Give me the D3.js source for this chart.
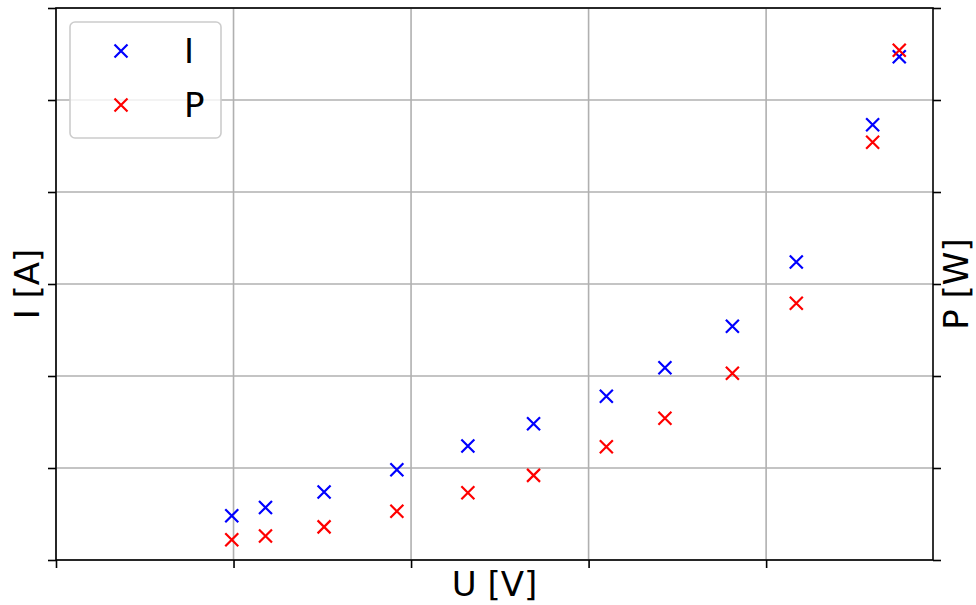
<!DOCTYPE html>
<html><head><meta charset="utf-8">
<script src="https://cdn.jsdelivr.net/npm/d3@7/dist/d3.min.js"></script>
<style>html,body{margin:0;padding:0;background:#fff;}svg{display:block;}</style>
</head><body>
<script>
// Data (axes have no tick labels)
const U = [0.99, 1.18, 1.51, 1.92, 2.32, 2.69, 3.10, 3.43, 3.81, 4.17, 4.60, 4.75];
const I = [0.48, 0.57, 0.74, 0.98, 1.24, 1.48, 1.78, 2.09, 2.54, 3.24, 4.73, 5.47];
const P = [0.22, 0.26, 0.36, 0.53, 0.73, 0.92, 1.23, 1.54, 2.03, 2.79, 4.54, 5.54];
const xTicks = [0, 1, 2, 3, 4];
const yTicks = [0, 1, 2, 3, 4, 5, 6];
const seriesNames = ["I", "P"];
const seriesColors = ["#0000ff", "#ff0000"];

const W = 976, H = 605;
const m = {left: 56, right: 43, top: 8, bottom: 45};
const pw = W - m.left - m.right, ph = H - m.top - m.bottom;
const font = "DejaVu Sans, sans-serif";
const fs = 34;

const svg = d3.select("body").append("svg").attr("width", W).attr("height", H);
const g = svg.append("g").attr("transform", `translate(${m.left},${m.top})`);

const x = d3.scaleLinear().domain([0, 4.94]).range([0, pw]);
const yL = d3.scaleLinear().domain([0, 6]).range([ph, 0]);
const yR = d3.scaleLinear().domain([0, 6]).range([ph, 0]);

// grid
g.append("g").selectAll("line").data(xTicks).join("line")
  .attr("x1", d => x(d)).attr("x2", d => x(d)).attr("y1", 0).attr("y2", ph)
  .attr("stroke", "#b0b0b0").attr("stroke-width", 1.6);
g.append("g").selectAll("line").data(yTicks).join("line")
  .attr("y1", d => yL(d)).attr("y2", d => yL(d)).attr("x1", 0).attr("x2", pw)
  .attr("stroke", "#b0b0b0").attr("stroke-width", 1.6);

// axes (ticks only, no labels)
function styleAxis(sel) {
  sel.select(".domain").remove();
  sel.selectAll(".tick line").attr("stroke", "#000").attr("stroke-width", 1.6);
  sel.selectAll(".tick text").remove();
}
g.append("g").attr("transform", `translate(0,${ph})`)
  .call(d3.axisBottom(x).tickValues(xTicks).tickSize(8)).call(styleAxis);
g.append("g").call(d3.axisLeft(yL).tickValues(yTicks).tickSize(8)).call(styleAxis);
g.append("g").attr("transform", `translate(${pw},0)`)
  .call(d3.axisRight(yR).tickValues(yTicks).tickSize(8)).call(styleAxis);

// spines
g.append("rect").attr("x", 0).attr("y", 0).attr("width", pw).attr("height", ph)
  .attr("fill", "none").attr("stroke", "#000").attr("stroke-width", 1.6);

// markers
const ms = 6.5;
function xMark(sel, color) {
  sel.append("path")
    .attr("d", `M${-ms},${-ms}L${ms},${ms}M${-ms},${ms}L${ms},${-ms}`)
    .attr("stroke", color).attr("stroke-width", 2.2).attr("fill", "none");
}
const dataI = U.map((u, i) => ({u, v: I[i]}));
const dataP = U.map((u, i) => ({u, v: P[i]}));
g.append("g").selectAll("g").data(dataI).join("g")
  .attr("transform", d => `translate(${x(d.u)},${yL(d.v)})`)
  .each(function() { xMark(d3.select(this), seriesColors[0]); });
g.append("g").selectAll("g").data(dataP).join("g")
  .attr("transform", d => `translate(${x(d.u)},${yR(d.v)})`)
  .each(function() { xMark(d3.select(this), seriesColors[1]); });

// legend
const lg = svg.append("g").attr("transform", "translate(70,22)");
lg.append("rect").attr("width", 151).attr("height", 116).attr("rx", 5)
  .attr("fill", "#fff").attr("fill-opacity", 0.8)
  .attr("stroke", "#cccccc").attr("stroke-width", 1.6);
seriesNames.forEach((n, i) => {
  const row = lg.append("g").attr("transform", `translate(0,${29 + i * 54})`);
  row.append("g").attr("transform", "translate(51,0)").call(s => xMark(s, seriesColors[i]));
  row.append("text").attr("x", 114).attr("y", 12).text(n)
    .attr("font-family", font).attr("font-size", fs).attr("fill", "#000");
});

// axis labels
svg.append("text").attr("x", m.left + pw / 2).attr("y", 596)
  .attr("text-anchor", "middle").attr("font-family", font).attr("font-size", fs).text("U [V]");
svg.append("text").attr("transform", `translate(39,${m.top + ph / 2}) rotate(-90)`)
  .attr("text-anchor", "middle").attr("font-family", font).attr("font-size", fs).text("I [A]");
svg.append("text").attr("transform", `translate(968,${m.top + ph / 2}) rotate(-90)`)
  .attr("text-anchor", "middle").attr("font-family", font).attr("font-size", fs).text("P [W]");
</script>
</body></html>
